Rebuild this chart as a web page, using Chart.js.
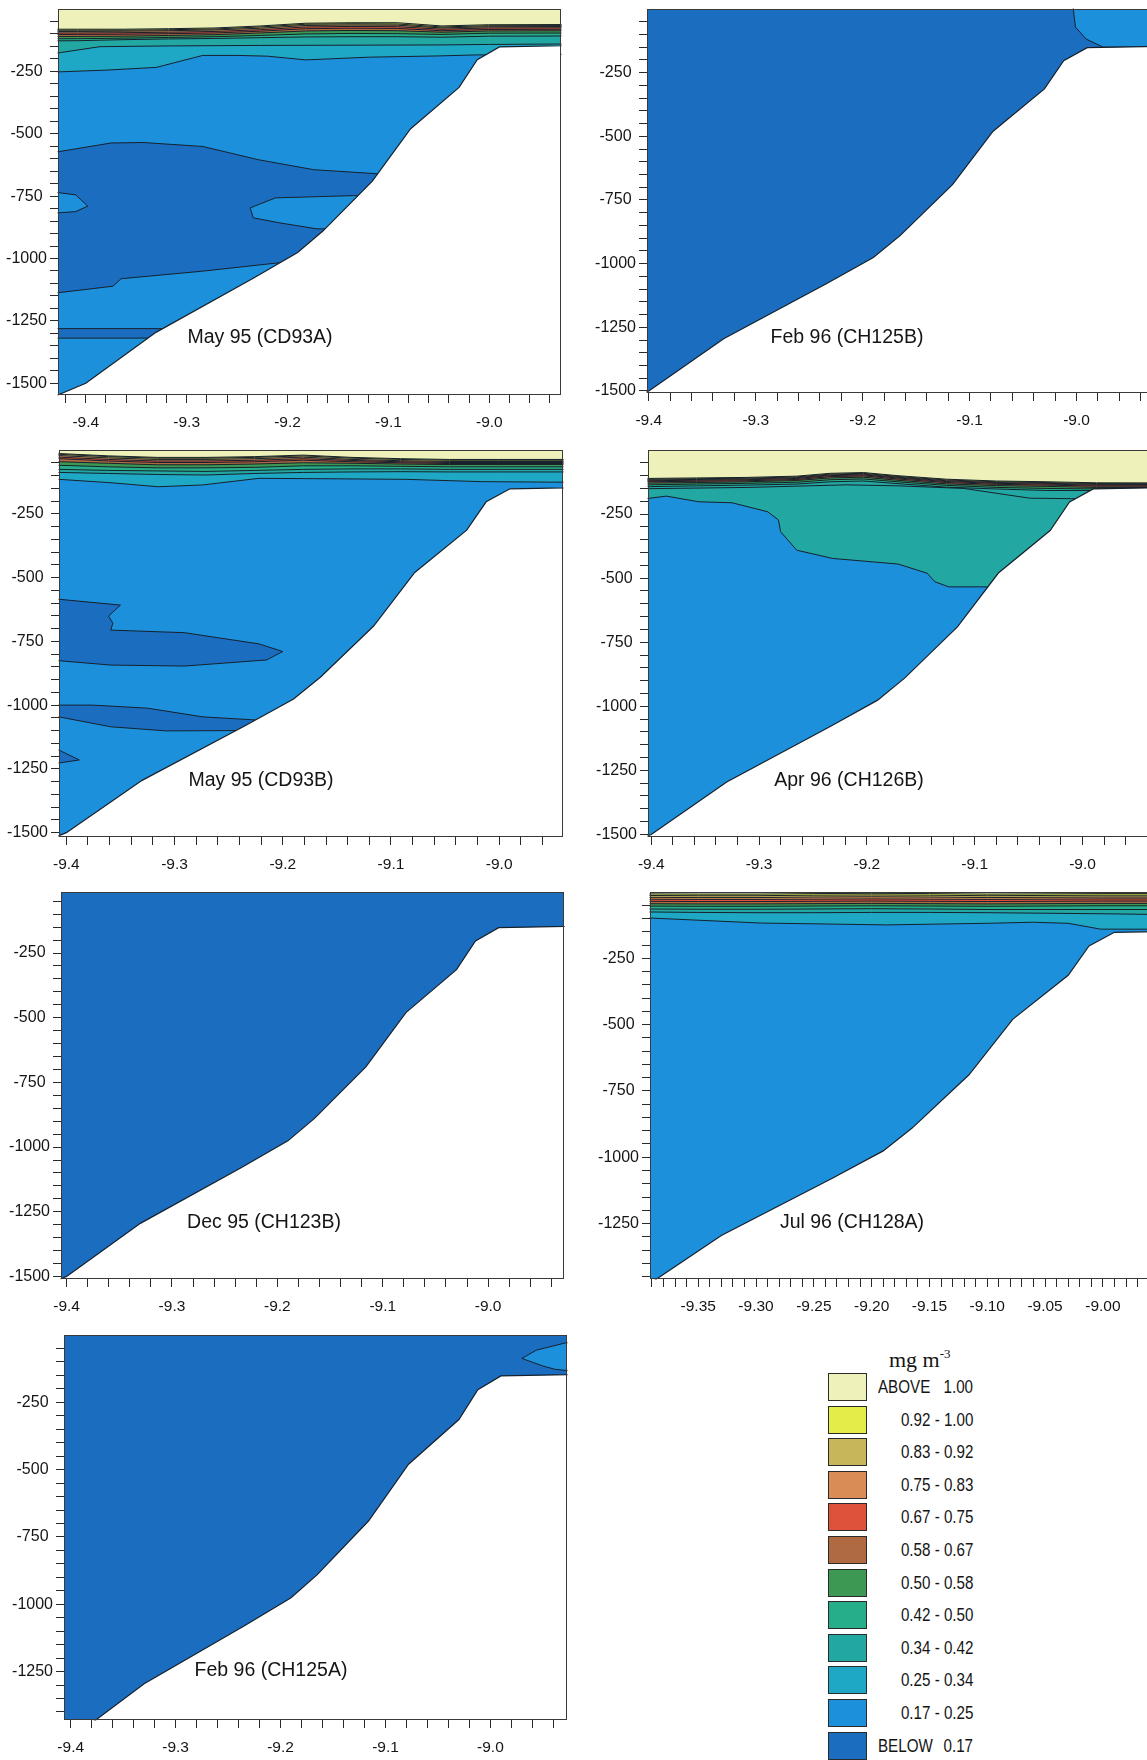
<!DOCTYPE html>
<html>
<head>
<meta charset="utf-8">
<title>Chlorophyll sections</title>
<script src="https://cdn.jsdelivr.net/npm/chart.js@4.4.1/dist/chart.umd.min.js"></script>
<style>
  html, body { margin:0; padding:0; background:#fff; }
  #page { position:relative; width:1147px; height:1760px; overflow:hidden; background:#fff; }
  #page canvas { position:absolute; }
  .ttl { position:absolute; font-family:'Liberation Sans', Arial, sans-serif; font-size:19.5px; color:#151515; white-space:nowrap; transform:translate(-50%,-50%); line-height:1; }
  .lg-box { position:absolute; box-sizing:border-box; border:1px solid #2b2b2b; }
  .lg-txt { position:absolute; height:28px; line-height:28px; font-size:18.5px; color:#151515; white-space:nowrap; }
  .lg-title { position:absolute; font-family:'Liberation Serif','Times New Roman',serif; font-size:22px; color:#151515; white-space:nowrap; line-height:22px; }
  .lg-title sup { font-size:13px; vertical-align:9px; line-height:0; }
</style>
</head>
<body>
<div id="page"></div>
<script>
// ======================= DATA =======================
const bandLabels = ['ABOVE 1.00', '0.92 - 1.00', '0.83 - 0.92', '0.75 - 0.83', '0.67 - 0.75', '0.58 - 0.67',
                    '0.50 - 0.58', '0.42 - 0.50', '0.34 - 0.42', '0.25 - 0.34', '0.17 - 0.25', 'BELOW 0.17'];
const legendUnit = 'mg m';
const legendUnitExp = '-3';
const panelTitles = ['May 95 (CD93A)', 'Feb 96 (CH125B)', 'May 95 (CD93B)', 'Apr 96 (CH126B)',
                     'Dec 95 (CH123B)', 'Jul 96 (CH128A)', 'Feb 96 (CH125A)'];

// sea bed (longitude, depth m)
const seabedLon   = [-9.60, -9.427, -9.40, -9.33, -9.234, -9.19, -9.165, -9.116, -9.078, -9.03, -9.012, -8.99, -8.70];
const seabedDepth = [-1841, -1546, -1500, -1295, -1079, -976, -890, -690, -480, -314, -203, -152, -130];

// --- May 95 (CD93A) ---
const cd93aLon  = [-9.60, -9.408, -9.363, -9.318, -9.272, -9.227, -9.182, -9.137, -9.091, -9.047, -9.001, -8.70];
const cd93aC100 = [-81, -81, -81, -79, -76, -68, -57, -55, -55, -68, -63, -60];
const cd93aC092 = [-85, -85, -85, -83, -80, -72, -61, -59, -60, -72, -67, -64];
const cd93aC083 = [-90, -90, -89, -87, -84, -77, -66, -64, -65, -76, -71, -68];
const cd93aC075 = [-96, -96, -95, -93, -90, -83, -72, -70, -71, -81, -76, -73];
const cd93aC067 = [-102, -102, -101, -99, -96, -89, -79, -77, -78, -87, -82, -79];
const cd93aC058 = [-110, -110, -109, -106, -103, -96, -88, -86, -87, -93, -88, -85];
const cd93aC050 = [-120, -119, -117, -114, -111, -106, -100, -98, -99, -102, -97, -94];
const cd93aC042 = [-133, -127, -123, -120, -118, -115, -112, -111, -111, -113, -109, -106];
const cd93aC034Lon = [-9.60, -9.429, -9.386, -9.318, -9.227, -9.137, -9.047, -9.001, -8.70];
const cd93aC034    = [-178, -177, -151, -148, -146, -145, -144, -142, -135];
const cd93aC025Lon = [-9.60, -9.427, -9.38, -9.33, -9.284, -9.25, -9.22, -9.182, -9.119, -9.05, -9.013, -8.70];
const cd93aC025    = [-256, -252, -245, -234, -186, -186, -189, -204, -193, -188, -184, -176];
const cd93aLensLon   = [-9.60, -9.427, -9.375, -9.343, -9.284, -9.229, -9.174, -9.112, -9.00, -9.00, -9.208, -9.285, -9.365, -9.373, -9.427, -9.60];
const cd93aLensDepth = [-572, -572, -537, -535, -551, -604, -644, -660, -665, -1017, -1017, -1051, -1081, -1111, -1137, -1137];
const cd93aTongueLon   = [-9.05, -9.135, -9.212, -9.237, -9.234, -9.208, -9.171, -9.05];
const cd93aTongueDepth = [-748, -748, -757, -797, -837, -857, -881, -881];
const cd93aWestTongueLon   = [-9.60, -9.427, -9.41, -9.398, -9.41, -9.427, -9.60];
const cd93aWestTongueDepth = [-736, -736, -745, -790, -812, -817, -817];
const cd93aDeepLon   = [-9.60, -9.30, -9.30, -9.60];
const cd93aDeepDepth = [-1281, -1281, -1319, -1319];

// --- Feb 96 (CH125B) ---
const ch125bPatchLon   = [-9.004, -9.003, -9.001, -8.991, -8.975, -8.70, -8.70];
const ch125bPatchDepth = [60, 0, -71, -118, -150, -150, 60];

// --- May 95 (CD93B) ---
const cd93bLon  = [-9.60, -9.406, -9.361, -9.316, -9.271, -9.226, -9.181, -9.136, -9.091, -9.046, -9.001, -8.70];
const cd93bC100 = [-16, -14, -23, -29, -29, -26, -20, -29, -34, -37, -37, -37];
const cd93bC092 = [-19, -17, -26, -32, -32, -29, -23, -32, -37, -40, -40, -40];
const cd93bC083 = [-24, -22, -31, -37, -37, -34, -28, -37, -42, -45, -45, -45];
const cd93bC075 = [-30, -28, -37, -43, -43, -40, -34, -41, -46, -49, -49, -49];
const cd93bC067 = [-36, -34, -43, -49, -49, -46, -40, -46, -50, -53, -53, -53];
const cd93bC058 = [-48, -46, -52, -58, -58, -55, -50, -52, -55, -57, -57, -57];
const cd93bC050 = [-62, -60, -66, -70, -70, -68, -62, -62, -64, -66, -66, -66];
const cd93bC042 = [-78, -76, -80, -82, -84, -80, -76, -74, -74, -76, -76, -76];
const cd93bC034 = [-92, -88, -92, -96, -98, -92, -88, -86, -85, -86, -86, -86];
const cd93bC025Lon = [-9.60, -9.407, -9.36, -9.315, -9.274, -9.222, -9.15, -9.086, -9.017, -8.95, -8.70];
const cd93bC025    = [-112, -115, -128, -144, -137, -111, -113, -115, -124, -126, -128];
const cd93bLensALon   = [-9.60, -9.407, -9.350, -9.361, -9.357, -9.359, -9.291, -9.222, -9.200, -9.215, -9.291, -9.359, -9.407, -9.60];
const cd93bLensADepth = [-585, -585, -608, -651, -679, -706, -716, -760, -790, -823, -847, -843, -826, -826];
const cd93bLensBLon   = [-9.60, -9.376, -9.325, -9.274, -9.226, -9.20, -9.20, -9.246, -9.308, -9.359, -9.407, -9.60];
const cd93bLensBDepth = [-1000, -1000, -1012, -1046, -1058, -1060, -1100, -1100, -1101, -1085, -1046, -1046];
const cd93bLensCLon   = [-9.60, -9.407, -9.388, -9.407, -9.60];
const cd93bLensCDepth = [-1176, -1176, -1215, -1227, -1227];

// --- Apr 96 (CH126B) ---
const ch126bLon  = [-9.60, -9.404, -9.358, -9.312, -9.265, -9.234, -9.203, -9.172, -9.126, -9.080, -9.033, -8.987, -8.70];
const ch126bC100 = [-112, -111, -109, -107, -102, -91, -88, -100, -114, -121, -124, -128, -130];
const ch126bC092 = [-115, -114, -112, -110, -105, -94, -91, -103, -117, -124, -127, -131, -133];
const ch126bC083 = [-118, -117, -115, -113, -108, -97, -94, -106, -120, -127, -130, -134, -136];
const ch126bC075 = [-121, -120, -118, -116, -111, -100, -97, -109, -123, -130, -133, -137, -139];
const ch126bC067 = [-125, -124, -122, -120, -115, -104, -101, -113, -127, -134, -137, -141, -143];
const ch126bC058 = [-130, -129, -127, -124, -119, -109, -106, -118, -132, -139, -142, -146, -148];
const ch126bC050 = [-137, -136, -133, -130, -126, -116, -113, -124, -138, -146, -150, -152, -154];
const ch126bC042 = [-144, -143, -140, -137, -133, -124, -121, -131, -145, -152, -158, -158, -160];
const ch126bC034Lon = [-9.60, -9.404, -9.31, -9.219, -9.17, -9.11, -9.049, -9.01, -8.70];
const ch126bC034    = [-152, -151, -146, -136, -140, -150, -188, -190, -190];
const ch126bC025Lon = [-9.60, -9.403, -9.386, -9.356, -9.325, -9.292, -9.282, -9.280, -9.265, -9.232, -9.171, -9.144, -9.137, -9.124, -9.06, -8.70];
const ch126bC025    = [-189, -189, -180, -202, -206, -241, -273, -319, -391, -423, -445, -481, -514, -534, -534, -534];

// --- Jul 96 (CH128A) ---
const ch128aLon  = [-9.60, -9.40, -9.35, -9.30, -9.25, -9.20, -9.15, -9.10, -9.05, -9.00, -8.95, -8.70];
const ch128aC100 = [-7, -7, -8, -8, -6, -5, -6, -8, -7, -6, -6, -6];
const ch128aC092 = [-13, -13, -14, -14, -12, -11, -12, -14, -13, -12, -12, -12];
const ch128aC083 = [-20, -20, -21, -21, -19, -18, -19, -21, -20, -19, -19, -19];
const ch128aC075 = [-27, -27, -28, -28, -27, -26, -27, -28, -27, -26, -26, -26];
const ch128aC067 = [-35, -35, -36, -36, -35, -34, -35, -36, -35, -34, -34, -34];
const ch128aC058 = [-44, -44, -45, -45, -44, -43, -44, -45, -44, -43, -43, -43];
const ch128aC050 = [-53, -53, -54, -54, -53, -52, -53, -54, -53, -52, -52, -52];
const ch128aC042 = [-64, -64, -65, -65, -64, -63, -64, -66, -66, -66, -66, -66];
const ch128aC034 = [-75, -75, -77, -78, -78, -77, -77, -78, -80, -82, -85, -85];
const ch128aC025Lon = [-9.60, -9.392, -9.296, -9.187, -9.10, -9.061, -9.03, -9.002, -8.70];
const ch128aC025    = [-95, -98, -117, -124, -118, -114, -118, -140, -142];

// --- Feb 96 (CH125A) ---
const ch125aWedgeLon   = [-8.70, -8.928, -8.956, -8.970, -8.950, -8.939, -8.920, -8.70];
const ch125aWedgeDepth = [-29, -29, -56, -87, -115, -127, -135, -135];

// axis tick settings
const yTickStep = 50;
const yLabelEvery = 250;

// ======================= STYLE / LAYOUT =======================
const bandColors = ['#eef1b9', '#e4ec4a', '#c8b65a', '#d98c56', '#de513b', '#b06a42',
                    '#3d9853', '#26ae8a', '#22a7a2', '#1fa8c6', '#1d90dc', '#1b6dc0'];
const LINE = '#16212c';
const TICK = '#2a2a2a';
const FRAME = '#3a3a3a';
const TXT = '#151515';
const FONT = "'Liberation Sans', Arial, Helvetica, sans-serif";
const YW = 70, PT = 26, PR = 14, XH = 45;

const L = (lon, depth, band) => ({lon, depth, band});

const panels = [
  { title: panelTitles[0], box: {l:58, t:9, r:561, b:395}, xr: [-9.4275, -8.929], yr: [-1547, 0],
    xStep: 0.02, xEvery: 0.1, xDec: 1, xLabelMax: -8.95, tpos: [260, 337], top: 0,
    layers: [L(cd93aLon, cd93aC100, 1), L(cd93aLon, cd93aC092, 2), L(cd93aLon, cd93aC083, 3), L(cd93aLon, cd93aC075, 4),
             L(cd93aLon, cd93aC067, 5), L(cd93aLon, cd93aC058, 6), L(cd93aLon, cd93aC050, 7), L(cd93aLon, cd93aC042, 8),
             L(cd93aC034Lon, cd93aC034, 9), L(cd93aC025Lon, cd93aC025, 10)],
    shapes: [L(cd93aLensLon, cd93aLensDepth, 11), L(cd93aTongueLon, cd93aTongueDepth, 10),
             L(cd93aWestTongueLon, cd93aWestTongueDepth, 10), L(cd93aDeepLon, cd93aDeepDepth, 11)] },
  { title: panelTitles[1], box: {l:647, t:9, r:1200, b:393}, xr: [-9.4017, -8.8845], yr: [-1508, 0],
    xStep: 0.02, xEvery: 0.1, xDec: 1, xLabelMax: -8.95, tpos: [847, 337], top: 11,
    layers: [], shapes: [L(ch125bPatchLon, ch125bPatchDepth, 10)] },
  { title: panelTitles[2], box: {l:59, t:450, r:563, b:837}, xr: [-9.4068, -8.941], yr: [-1517, 0],
    xStep: 0.02, xEvery: 0.1, xDec: 1, xLabelMax: -8.95, tpos: [261, 780], top: 0,
    layers: [L(cd93bLon, cd93bC100, 1), L(cd93bLon, cd93bC092, 2), L(cd93bLon, cd93bC083, 3), L(cd93bLon, cd93bC075, 4),
             L(cd93bLon, cd93bC067, 5), L(cd93bLon, cd93bC058, 6), L(cd93bLon, cd93bC050, 7), L(cd93bLon, cd93bC042, 8),
             L(cd93bLon, cd93bC034, 9), L(cd93bC025Lon, cd93bC025, 10)],
    shapes: [L(cd93bLensALon, cd93bLensADepth, 11), L(cd93bLensBLon, cd93bLensBDepth, 11), L(cd93bLensCLon, cd93bLensCDepth, 11)] },
  { title: panelTitles[3], box: {l:648, t:450, r:1200, b:837}, xr: [-9.403, -8.891], yr: [-1510, 0],
    xStep: 0.02, xEvery: 0.1, xDec: 1, xLabelMax: -8.95, tpos: [849, 780], top: 0,
    layers: [L(ch126bLon, ch126bC100, 1), L(ch126bLon, ch126bC092, 2), L(ch126bLon, ch126bC083, 3), L(ch126bLon, ch126bC075, 4),
             L(ch126bLon, ch126bC067, 5), L(ch126bLon, ch126bC058, 6), L(ch126bLon, ch126bC050, 7), L(ch126bLon, ch126bC042, 8),
             L(ch126bC034Lon, ch126bC034, 8), L(ch126bC025Lon, ch126bC025, 10)],
    shapes: [] },
  { title: panelTitles[4], box: {l:61, t:892, r:564, b:1279}, xr: [-9.4053, -8.928], yr: [-1510, -14],
    xStep: 0.02, xEvery: 0.1, xDec: 1, xLabelMax: -8.95, tpos: [264, 1222], top: 11, layers: [], shapes: [] },
  { title: panelTitles[5], box: {l:650, t:892, r:1200, b:1279}, xr: [-9.3917, -8.916], yr: [-1459, 0],
    xStep: 0.01, xEvery: 0.05, xDec: 2, xLabelMax: -8.99, tpos: [852, 1222], top: 0,
    layers: [L(ch128aLon, ch128aC100, 1), L(ch128aLon, ch128aC092, 2), L(ch128aLon, ch128aC083, 3), L(ch128aLon, ch128aC075, 4),
             L(ch128aLon, ch128aC067, 5), L(ch128aLon, ch128aC058, 6), L(ch128aLon, ch128aC050, 7), L(ch128aLon, ch128aC042, 8),
             L(ch128aLon, ch128aC034, 9), L(ch128aC025Lon, ch128aC025, 10)],
    shapes: [] },
  { title: panelTitles[6], box: {l:64, t:1335, r:567, b:1720}, xr: [-9.4064, -8.927], yr: [-1430, 0],
    xStep: 0.02, xEvery: 0.1, xDec: 1, xLabelMax: -8.95, tpos: [271, 1670], top: 11,
    layers: [], shapes: [L(ch125aWedgeLon, ch125aWedgeDepth, 10)] }
];

// ======================= RENDER =======================
const page = document.getElementById('page');

function pts(lon, depth) { return lon.map((x, i) => ({x: x, y: depth[i]})); }

function tickValues(min, max, step) {
  const out = [];
  const k0 = Math.ceil(min / step - 1e-9), k1 = Math.floor(max / step + 1e-9);
  for (let k = k0; k <= k1; k++) {
    const v = +(k * step).toFixed(6);
    if (v > min + 1e-9 && v < max - 1e-9) out.push({value: v});
  }
  return out;
}

function xLabel(v, p) {
  if (v > p.xLabelMax) return '';
  const k = Math.round(v / p.xEvery);
  return Math.abs(v - k * p.xEvery) < 1e-7 ? (k * p.xEvery).toFixed(p.xDec) : '';
}
function yLabel(v) {
  const r = Math.round(v);
  return (r % yLabelEvery === 0 && r !== 0) ? String(r) : '';
}

function buildDatasets(p) {
  const ds = [];
  let order = 1000;
  // water column above the first contour
  ds.push({data: pts([-9.70, -8.60], [500, 500]), fill: 'start', backgroundColor: bandColors[p.top],
           borderWidth: 0, order: order--});
  p.layers.forEach(ly => ds.push({data: pts(ly.lon, ly.depth), fill: 'start', backgroundColor: bandColors[ly.band],
           borderColor: LINE, borderWidth: 1, order: order--}));
  p.shapes.forEach(sh => ds.push({data: pts(sh.lon, sh.depth), fill: 'shape', backgroundColor: bandColors[sh.band],
           borderColor: LINE, borderWidth: 1, order: order--}));
  ds.push({data: pts(seabedLon, seabedDepth), fill: 'start', backgroundColor: '#ffffff',
           borderColor: LINE, borderWidth: 1.2, order: 0});
  return ds;
}

const framePlugin = {
  id: 'frame',
  afterDraw(chart) {
    const {ctx, chartArea: a} = chart;
    ctx.save();
    ctx.strokeStyle = FRAME;
    ctx.lineWidth = 1;
    ctx.strokeRect(Math.round(a.left) + 0.5, Math.round(a.top) + 0.5,
                   Math.round(a.right - a.left) - 1, Math.round(a.bottom - a.top) - 1);
    ctx.restore();
  }
};

function makePanel(p) {
  const W = YW + (p.box.r - p.box.l) + PR;
  const H = PT + (p.box.b - p.box.t) + XH;
  const cv = document.createElement('canvas');
  cv.width = W; cv.height = H;
  cv.style.left = (p.box.l - YW) + 'px';
  cv.style.top = (p.box.t - PT) + 'px';
  cv.style.width = W + 'px';
  cv.style.height = H + 'px';
  page.appendChild(cv);
  const gridOpts = {display: true, drawOnChartArea: false, drawTicks: true, tickLength: 8,
                    tickColor: TICK, tickWidth: 1, color: TICK};
  new Chart(cv.getContext('2d'), {
    type: 'line',
    data: {datasets: buildDatasets(p)},
    options: {
      responsive: false, animation: false, devicePixelRatio: 1, events: [],
      layout: {padding: {left: 0, top: PT, right: PR, bottom: 0}},
      plugins: {legend: {display: false}, tooltip: {enabled: false}, title: {display: false}},
      elements: {point: {radius: 0, hoverRadius: 0}, line: {tension: 0}},
      scales: {
        x: {
          type: 'linear', position: 'bottom', bounds: 'data',
          afterDataLimits: s => { s.min = p.xr[0]; s.max = p.xr[1]; },
          afterBuildTicks: s => { s.ticks = tickValues(p.xr[0], p.xr[1], p.xStep); },
          afterFit: s => { s.height = XH; },
          ticks: {autoSkip: false, maxRotation: 0, minRotation: 0, padding: 10, color: TXT,
                  font: {family: FONT, size: 15.5}, callback: v => xLabel(v, p)},
          grid: gridOpts,
          border: {display: false}
        },
        y: {
          type: 'linear', position: 'left', bounds: 'data',
          afterDataLimits: s => { s.min = p.yr[0]; s.max = p.yr[1]; },
          afterBuildTicks: s => { s.ticks = tickValues(p.yr[0], p.yr[1], yTickStep); },
          afterFit: s => { s.width = YW; },
          ticks: {autoSkip: false, padding: 3, crossAlign: 'center', color: TXT,
                  font: {family: FONT, size: 16}, callback: v => yLabel(v)},
          grid: gridOpts,
          border: {display: false}
        }
      }
    },
    plugins: [framePlugin]
  });
  const t = document.createElement('div');
  t.className = 'ttl';
  t.textContent = p.title;
  t.style.left = p.tpos[0] + 'px';
  t.style.top = p.tpos[1] + 'px';
  page.appendChild(t);
}

panels.forEach(makePanel);

// ---------- legend ----------
function fontAvailable(name) {
  const c = document.createElement('canvas').getContext('2d');
  const s = 'abcdefghijklmnopqrstuvwxyz0123456789ABOVE';
  let diff = false;
  ['monospace', 'serif'].forEach(base => {
    c.font = '32px ' + base; const w1 = c.measureText(s).width;
    c.font = '32px "' + name + '", ' + base; const w2 = c.measureText(s).width;
    if (Math.abs(w1 - w2) > 0.5) diff = true;
  });
  return diff;
}
const narrowOK = fontAvailable('Liberation Sans Narrow');
const LG = {boxL: 828, boxW: 39, boxH: 28, top0: 1373, pitch: 32.6, txtL: 878, txtR: 973};

function legendText(text, x, y, alignRight) {
  const d = document.createElement('div');
  d.className = 'lg-txt';
  d.textContent = text;
  d.style.top = y + 'px';
  if (narrowOK) {
    d.style.fontFamily = "'Liberation Sans Narrow', sans-serif";
  } else {
    d.style.fontFamily = FONT;
    d.style.transform = 'scaleX(0.82)';
    d.style.transformOrigin = alignRight ? 'right center' : 'left center';
  }
  if (alignRight) { d.style.right = (1147 - x) + 'px'; } else { d.style.left = x + 'px'; }
  page.appendChild(d);
}

const lt = document.createElement('div');
lt.className = 'lg-title';
lt.innerHTML = legendUnit + '<sup>' + legendUnitExp + '</sup>';
lt.style.left = '889px';
lt.style.top = '1349px';
page.appendChild(lt);

bandLabels.forEach((lab, i) => {
  const y = LG.top0 + i * LG.pitch;
  const b = document.createElement('div');
  b.className = 'lg-box';
  b.style.left = LG.boxL + 'px'; b.style.top = y + 'px';
  b.style.width = LG.boxW + 'px'; b.style.height = LG.boxH + 'px';
  b.style.background = bandColors[i];
  page.appendChild(b);
  const parts = lab.split(' ');
  if (parts[0] === 'ABOVE' || parts[0] === 'BELOW') {
    legendText(parts[0], LG.txtL, y, false);
    legendText(parts[1], LG.txtR, y, true);
  } else {
    legendText(lab, LG.txtR, y, true);
  }
});
</script>
</body>
</html>
